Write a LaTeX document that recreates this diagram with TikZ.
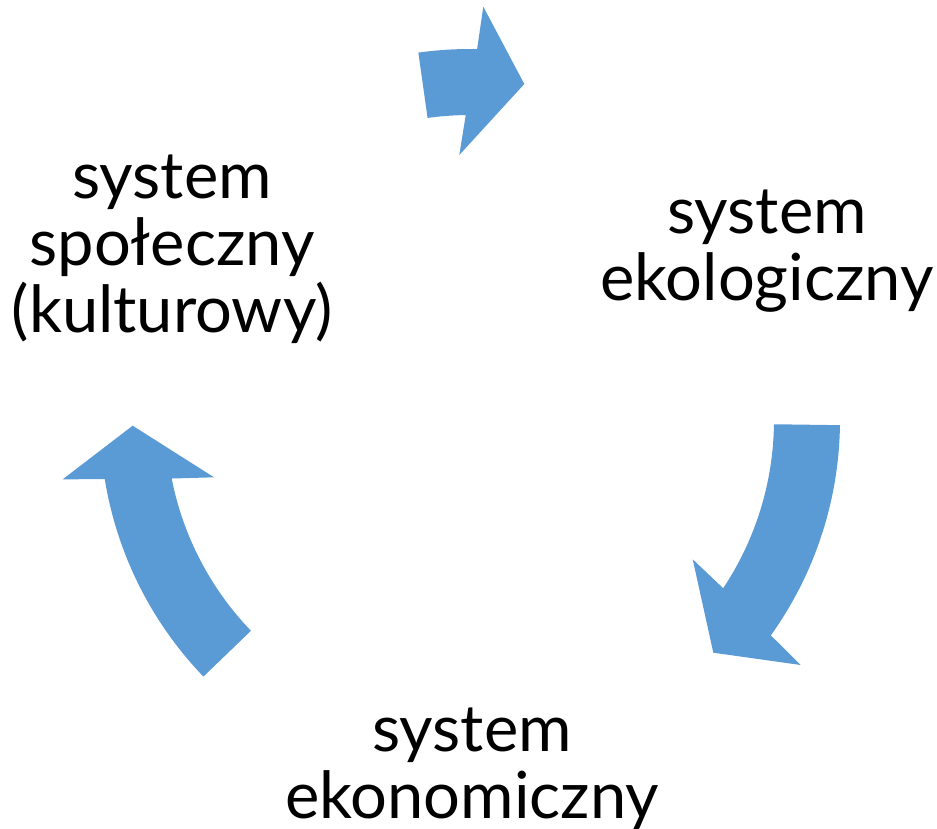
\documentclass[tikz,border=0pt]{standalone}
\usepackage{fontspec}
\setmainfont{Lato}
\usepackage{tikz}
\usetikzlibrary{calc}
\definecolor{arrow_blue}{RGB}{91,155,213}
\definecolor{text_black}{RGB}{0,0,0}

\begin{document}
\begin{tikzpicture}[x=1pt,y=1pt]
    \tikzstyle{sys}=[align=center, anchor=base, inner sep=0pt, text=text_black, font=\fontsize{65}{67}\selectfont]
    \tikzstyle{cyc}=[fill=arrow_blue, draw=none]

    \useasboundingbox (0,0) rectangle (937,-828);
    \coordinate (c) at (470,-420);

    \node[sys] (spol) at (172,-332) {system\\społeczny\\(kulturowy)};
    \node[sys] (eko)  at (767,-300) {system\\ekologiczny};
    \node[sys] (ekon) at (472,-818) {system\\ekonomiczny};

    % top arrow
    \path[cyc] ($(c)+(98:371)$) arc[start angle=98, end angle=88.9, radius=371]
      -- (483.3,-6.7) -- (524.3,-84) -- (459.3,-155)
      -- ($(c)+(90.8:305)$) arc[start angle=90.8, end angle=98, radius=305] -- cycle;
    % right arrow
    \path[cyc] ($(c)+(-0.8:370)$) arc[start angle=-0.8, end angle=-35.6, radius=370]
      -- (800.7,-665) -- (713.3,-652.7) -- (692.7,-559.3)
      -- ($(c)+(-33.6:304)$) arc[start angle=-33.6, end angle=-0.8, radius=304] -- cycle;
    % left arrow
    \path[cyc] ($(c)+(223.9:370)$) arc[start angle=223.9, end angle=189.2, radius=370]
      -- (62.7,-479.3) -- (132.7,-425.7) -- (214,-477.3)
      -- ($(c)+(191.1:304)$) arc[start angle=191.1, end angle=223.9, radius=304] -- cycle;
  \end{tikzpicture}
\end{document}
